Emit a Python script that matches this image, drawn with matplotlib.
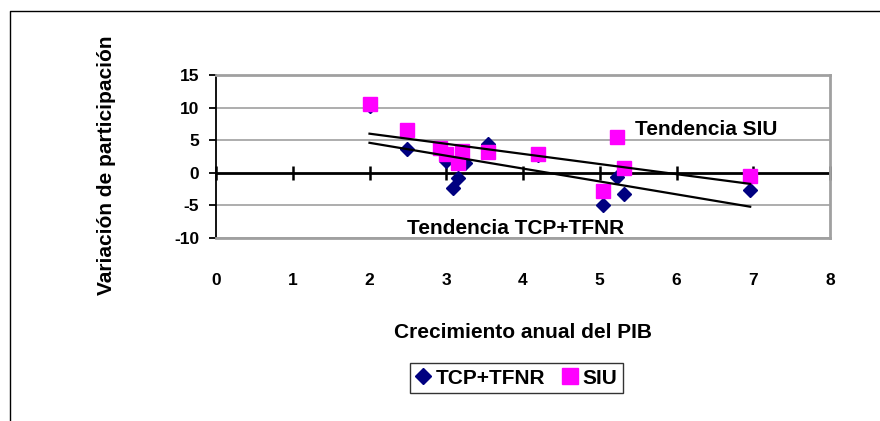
"""Variación de participación vs crecimiento anual del PIB (scatter + tendencias)."""

import matplotlib

matplotlib.use("Agg")

import matplotlib.pyplot as plt
from matplotlib.lines import Line2D

# --- data ------------------------------------------------------------------
tcp_x = [2.00, 2.49, 3.00, 3.24, 3.15, 3.09, 3.55, 4.20, 5.22, 5.32, 5.04, 6.96]
tcp_y = [10.2, 3.7, 1.8, 1.5, -0.8, -2.4, 4.4, 2.7, -0.6, -3.2, -4.9, -2.6]

siu_x = [2.00, 2.49, 2.92, 3.00, 3.20, 3.15, 3.55, 4.20, 5.22, 5.32, 5.04, 6.96]
siu_y = [10.5, 6.6, 3.85, 2.9, 3.4, 1.5, 3.2, 2.9, 5.5, 0.8, -2.8, -0.5]

trend_x = [2.0, 6.96]
tcp_trend = [4.6, -5.2]
siu_trend = [6.0, -1.7]

x_ticks = [0, 1, 2, 3, 4, 5, 6, 7, 8]
y_ticks = [-10, -5, 0, 5, 10, 15]

NAVY = "#000080"
MAGENTA = "#FF00FF"
GRID = "#A0A0A0"

plt.rcParams["font.family"] = ["Liberation Sans", "DejaVu Sans"]
plt.rcParams["font.weight"] = "bold"
plt.rcParams["axes.unicode_minus"] = False

fig = plt.figure(figsize=(8.8, 4.21), dpi=100)
ax = fig.add_axes([216 / 880, 1 - 238 / 421, (830 - 216) / 880, (238 - 75) / 421])

ax.set_xlim(x_ticks[0], x_ticks[-1])
ax.set_ylim(y_ticks[0], y_ticks[-1])

for y in y_ticks:
    if y != 0:
        ax.axhline(y, color=GRID, lw=1.2, zorder=1)
ax.axhline(0, color="black", lw=2.0, zorder=2)
ax.plot(x_ticks, [0] * len(x_ticks), ls="none", marker="|", ms=10, mew=1.8,
        color="black", zorder=2, clip_on=False)

ax.plot(tcp_x, tcp_y, ls="none", marker="D", ms=7.5, color=NAVY, mec=NAVY,
        zorder=3, label="TCP+TFNR")
ax.plot(siu_x, siu_y, ls="none", marker="s", ms=10.5, color=MAGENTA, mec=MAGENTA,
        zorder=4, label="SIU")
ax.plot(trend_x, siu_trend, color="black", lw=1.6, zorder=5)
ax.plot(trend_x, tcp_trend, color="black", lw=1.6, zorder=5)

ax.text(5.46, 6.6, "Tendencia SIU", fontsize=15, fontweight="bold",
        ha="left", va="center", zorder=6)
ax.text(2.49, -8.6, "Tendencia TCP+TFNR", fontsize=15, fontweight="bold",
        ha="left", va="center", zorder=6)

for side in ("top", "right", "bottom"):
    ax.spines[side].set_color(GRID)
    ax.spines[side].set_linewidth(2.0)
ax.spines["left"].set_color("black")
ax.spines["left"].set_linewidth(1.3)

ax.set_xticks(x_ticks)
ax.set_yticks(y_ticks)
ax.tick_params(axis="x", length=0, pad=25, labelsize=12.5)
ax.tick_params(axis="y", direction="out", length=5, width=1.3, pad=7, labelsize=12.5)
for lab in ax.get_xticklabels() + ax.get_yticklabels():
    lab.set_fontweight("bold")

fig.text(106 / 880, 1 - 165 / 421, "Variación de participación", rotation=90,
         fontsize=15, fontweight="bold", ha="center", va="center")
fig.text(523 / 880, 1 - 332 / 421, "Crecimiento anual del PIB",
         fontsize=15, fontweight="bold", ha="center", va="center")

handles = [
    Line2D([], [], ls="none", marker="D", ms=8, color=NAVY),
    Line2D([], [], ls="none", marker="s", ms=11, color=MAGENTA),
]
leg = fig.legend(handles, ["TCP+TFNR", "SIU"], loc="center",
                 bbox_to_anchor=(516 / 880, 1 - 378 / 421), ncol=2,
                 prop={"size": 15, "weight": "bold"}, frameon=True,
                 fancybox=False, handlelength=0.8, handletextpad=0.2,
                 columnspacing=0.8, borderpad=0.25, borderaxespad=0)
leg.get_frame().set_edgecolor("black")
leg.get_frame().set_linewidth(1.0)

# outer chart border (left and top only, as cropped in the original)
fig.add_artist(Line2D([10 / 880, 10 / 880, 1.0], [0.0, 1 - 11 / 421, 1 - 11 / 421],
                      transform=fig.transFigure, color="black", lw=1.0))

fig.savefig("out.png", dpi=100)
